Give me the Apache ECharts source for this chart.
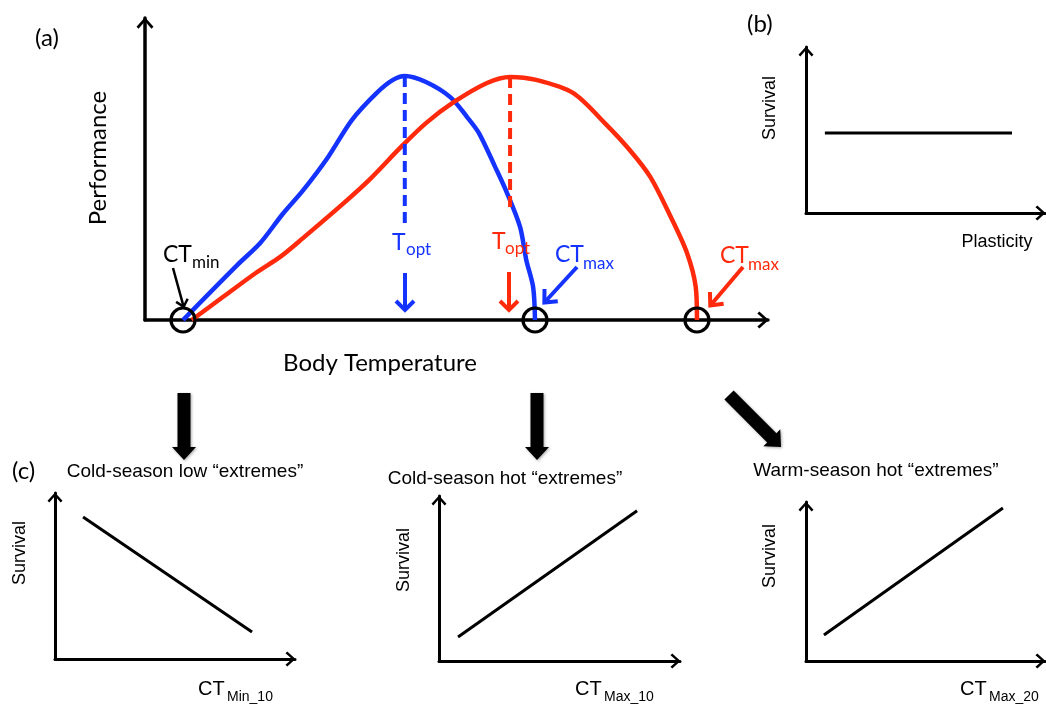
<!DOCTYPE html>
<html><head><meta charset="utf-8">
<script src="https://cdn.jsdelivr.net/npm/echarts@6/dist/echarts.min.js"></script>
<style>html,body{margin:0;padding:0;background:#fff}#c{width:1046px;height:704px}</style>
</head><body><div id="c"></div>
<script>
// ---- Panel (a): thermal performance curves (temperature 0-100, performance 0-100)
const blueTemp = [6.1,14.8,18.5,22.1,25.4,29.4,33.2,37.2,39.8,41.7,45.1,49.0,51.7,53.6,56.2,58.1,60.2,61.2,62.3,62.6];
const bluePerf = [0,18.2,25.5,35.1,43.0,54.0,66.2,75.2,79.5,80.8,78.8,73.8,67.2,61.9,50.7,42.1,30.8,19.9,10.9,0];
const redTemp  = [7.5,12.5,18.0,21.7,25.4,31.9,36.0,41.1,45.1,49.6,54.9,58.6,62.8,68.7,73.8,77.8,81.1,84.4,87.0,88.4,88.6];
const redPerf  = [0,7.6,15.9,20.9,27.2,38.7,46.4,57.3,65.2,72.2,78.5,80.5,79.5,75.2,65.2,56.3,47.4,34.1,22.2,10.9,0];
const optTemp = [41.7, 58.6];          // blue, red T_opt
const optPerfTop = [80.8, 80.5];
const optPerfBottom = [31.5, 35.8];
const ctTemp = [6.1, 62.6, 88.6];      // CT_min, blue CT_max, red CT_max
// ---- Panel (b)
const plastX = [7.9, 86.2], plastSurv = [48.2, 48.2];
// ---- Panel (c)
const c1X = [11.7, 82.1], c1Y = [85.5, 16.3];
const c2X = [7.9, 82.2],  c2Y = [14.5, 91.0];
const c3X = [7.5, 82.4],  c3Y = [16.4, 96.2];
const cTitles = ['Cold-season low \u201cextremes\u201d','Cold-season hot \u201cextremes\u201d','Warm-season hot \u201cextremes\u201d'];
const cSubs = ['Min_10','Max_10','Max_20'];

const BLUE = '#1433ff', RED = '#ff2a0c';
const CAL = 'Lato, "Open Sans", sans-serif';
const ARI = '"Liberation Sans", Arial, sans-serif';
const chevron = 'path://M10,0 L20,11 L17.6,13.4 L10,4.6 L2.4,13.4 L0,11 Z';

function ax(gi, lw, sw, sh){
  return {gridIndex:gi, type:'value', min:0, max:100,
    axisLine:{show:true, onZero:false, lineStyle:{color:'#000', width:lw},
      symbol:['none', chevron], symbolSize:[sw, sh], symbolOffset:[0, -sh/2 + 1]},
    axisTick:{show:false}, axisLabel:{show:false}, splitLine:{show:false}};
}
const zip = (a,b) => a.map((v,i)=>[v,b[i]]);

function txt(x, base, s, size, color, fam, align){
  return {type:'text', x:x, y: base - 0.36*size, z:20,
    style:{text:s, font: size+'px '+fam, fill:color, textAlign:align||'left', textVerticalAlign:'middle'}};
}
function lineArrow(x1,y1,x2,y2,color,w,hl,hh){
  const a = Math.atan2(y2-y1,x2-x1), ux=Math.cos(a), uy=Math.sin(a), px=-uy, py=ux;
  const bx = x2-ux*hl, by = y2-uy*hl;
  return [
    {type:'polyline', z:20, shape:{points:[[x1,y1],[x2-ux*w*0.6,y2-uy*w*0.6]]}, style:{stroke:color,lineWidth:w,fill:null}},
    {type:'polyline', z:20, shape:{points:[[bx+px*hh,by+py*hh],[x2-ux*w*0.5,y2-uy*w*0.5],[bx-px*hh,by-py*hh]]}, style:{stroke:color,lineWidth:w,fill:null,lineJoin:'miter',miterLimit:10}}
  ];
}
function blockArrow(x1,y1,x2,y2,sh,hh,hl){
  const a = Math.atan2(y2-y1,x2-x1), ux=Math.cos(a), uy=Math.sin(a), px=-uy, py=ux;
  const bx = x2-ux*hl, by = y2-uy*hl;
  const P = (x,y,k)=>[x+px*k, y+py*k];
  return {type:'polygon', z:20, shape:{points:[P(x1,y1,sh),P(bx,by,sh),P(bx,by,hh),[x2,y2],P(bx,by,-hh),P(bx,by,-sh),P(x1,y1,-sh)]},
    style:{fill:'#000', shadowBlur:3, shadowColor:'rgba(0,0,0,0.35)', shadowOffsetX:1, shadowOffsetY:1}};
}

const grids = [
  {left:145, top:18, width:623, height:302},
  {left:806, top:47, width:239, height:166},
  {left:55, top:493, width:240, height:166},
  {left:439, top:496, width:241, height:165},
  {left:806, top:502, width:239, height:159}
];
const xAxes = [ax(0,3.5,17,12), ax(1,3,15,11), ax(2,3,15,11), ax(3,3,15,11), ax(4,3,15,11)];
const yAxes = [ax(0,3.5,17,12), ax(1,3,15,11), ax(2,3,15,11), ax(3,3,15,11), ax(4,3,15,11)];

const blackLine = {color:'#000', width:3};
const series = [
  {type:'line', xAxisIndex:0, yAxisIndex:0, data:zip(blueTemp,bluePerf), symbol:'none', smooth:0.3, clip:false, z:3, lineStyle:{color:BLUE, width:4.5}},
  {type:'line', xAxisIndex:0, yAxisIndex:0, data:zip(redTemp,redPerf), symbol:'none', smooth:0.3, clip:false, z:3, lineStyle:{color:RED, width:4.5}},
  {type:'line', xAxisIndex:0, yAxisIndex:0, data:[[optTemp[0],optPerfTop[0]],[optTemp[0],optPerfBottom[0]]], symbol:'none', z:4, lineStyle:{color:BLUE, width:4, type:[11,6]}},
  {type:'line', xAxisIndex:0, yAxisIndex:0, data:[[optTemp[1],optPerfTop[1]],[optTemp[1],optPerfBottom[1]]], symbol:'none', z:4, lineStyle:{color:RED, width:4, type:[11,6]}},
  {type:'scatter', xAxisIndex:0, yAxisIndex:0, data:ctTemp.map(t=>[t,0]), symbol:'circle', symbolSize:24, clip:false, z:6,
    itemStyle:{color:'rgba(0,0,0,0)', borderColor:'#000', borderWidth:3.2, opacity:1}},
  {type:'line', xAxisIndex:1, yAxisIndex:1, data:zip(plastX,plastSurv), symbol:'none', lineStyle:blackLine},
  {type:'line', xAxisIndex:2, yAxisIndex:2, data:zip(c1X,c1Y), symbol:'none', lineStyle:blackLine},
  {type:'line', xAxisIndex:3, yAxisIndex:3, data:zip(c2X,c2Y), symbol:'none', lineStyle:blackLine},
  {type:'line', xAxisIndex:4, yAxisIndex:4, data:zip(c3X,c3Y), symbol:'none', lineStyle:blackLine}
];

const R90 = Math.PI/2;
const graphic = [
  txt(35, 47, '(a)', 24, '#000', CAL),
  txt(747, 33, '(b)', 24, '#000', CAL),
  txt(12, 480, '(c)', 24, '#000', CAL),
  {type:'text', x:98, y:158, rotation:R90, z:20, style:{text:'Performance', font:'24px '+CAL, fill:'#000', textAlign:'center', textVerticalAlign:'middle'}},
  {type:'text', x:380, y:363, z:20, style:{text:'Body Temperature', font:'24px '+CAL, fill:'#000', textAlign:'center', textVerticalAlign:'middle'}},
  // CT_min
  txt(163, 263, 'CT', 23, '#000', CAL), txt(192, 269, 'min', 17, '#000', CAL),
  ...lineArrow(173,268,184,308,'#000',2.5,8,6),
  // blue T_opt
  txt(392, 251, 'T', 23, BLUE, CAL), txt(406, 256, 'opt', 17, BLUE, CAL),
  ...lineArrow(405,273,405,312,BLUE,4,11,9),
  // red T_opt
  txt(492, 250, 'T', 23, RED, CAL), txt(505, 255, 'opt', 17, RED, CAL),
  ...lineArrow(509,272,509,312,RED,4,11,9),
  // blue CT_max
  txt(555, 263, 'CT', 23, BLUE, CAL), txt(583, 270, 'max', 17, BLUE, CAL),
  ...lineArrow(577,267,543,304,BLUE,4,12,9),
  // red CT_max
  txt(720, 264, 'CT', 23, RED, CAL), txt(748, 271, 'max', 17, RED, CAL),
  ...lineArrow(743,267,709,307,RED,4,12,9),
  // panel b labels
  {type:'text', x:770, y:108, rotation:R90, z:20, style:{text:'Survival', font:'18px '+ARI, fill:'#000', textAlign:'center', textVerticalAlign:'middle'}},
  {type:'text', x:997, y:242, z:20, style:{text:'Plasticity', font:'18px '+ARI, fill:'#000', textAlign:'center', textVerticalAlign:'middle'}},
  // panel c
  blockArrow(184,393,184,460,6.5,12,13),
  blockArrow(537,393,537,460,6.5,12,13),
  blockArrow(729,395,781,447,6.5,12,13),
  {type:'text', x:185, y:472, z:20, style:{text:cTitles[0], font:'19px '+ARI, fill:'#000', textAlign:'center', textVerticalAlign:'middle'}},
  {type:'text', x:505, y:479, z:20, style:{text:cTitles[1], font:'19px '+ARI, fill:'#000', textAlign:'center', textVerticalAlign:'middle'}},
  {type:'text', x:876, y:471, z:20, style:{text:cTitles[2], font:'19px '+ARI, fill:'#000', textAlign:'center', textVerticalAlign:'middle'}},
  {type:'text', x:20, y:553, rotation:R90, z:20, style:{text:'Survival', font:'18px '+ARI, fill:'#000', textAlign:'center', textVerticalAlign:'middle'}},
  {type:'text', x:404, y:560, rotation:R90, z:20, style:{text:'Survival', font:'18px '+ARI, fill:'#000', textAlign:'center', textVerticalAlign:'middle'}},
  {type:'text', x:770, y:556, rotation:R90, z:20, style:{text:'Survival', font:'18px '+ARI, fill:'#000', textAlign:'center', textVerticalAlign:'middle'}},
  txt(198, 697, 'CT', 20, '#000', ARI), txt(227, 702, cSubs[0], 14, '#000', ARI),
  txt(575, 697, 'CT', 20, '#000', ARI), txt(604, 702, cSubs[1], 14, '#000', ARI),
  txt(960, 697, 'CT', 20, '#000', ARI), txt(989, 702, cSubs[2], 14, '#000', ARI)
];

const chart = echarts.init(document.getElementById('c'), null, {renderer:'canvas'});
chart.setOption({animation:false, backgroundColor:'#fff', grid:grids, xAxis:xAxes, yAxis:yAxes, series:series, graphic:graphic});
</script></body></html>
